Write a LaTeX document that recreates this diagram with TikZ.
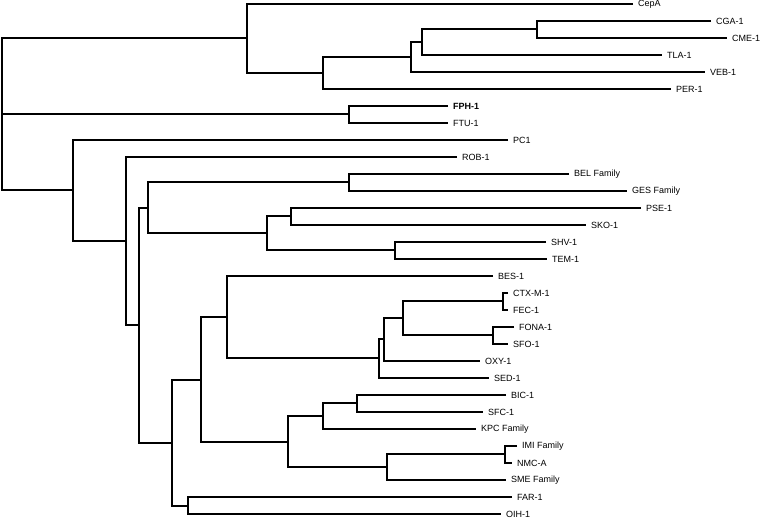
\documentclass[tikz,border=0pt]{standalone}
\usepackage{fontspec}
\setsansfont{Liberation Sans}
\usetikzlibrary{positioning}
\tikzset{
  branch/.style={line width=2pt},
  leaflab/.style={font=\sffamily\fontsize{9}{10}\selectfont,inner sep=0pt,label distance=5pt}
}
\begin{document}
\begin{tikzpicture}[x=1pt,y=-1pt]
\useasboundingbox (0,0) rectangle (760,519);
% leaves: row/end x/name/label
\foreach \i/\x/\nm/\lab in {0/633/cepa/CepA,1/711/cga/CGA-1,2/727/cme/CME-1,3/662/tla/TLA-1,
  4/705/veb/VEB-1,5/671/per/PER-1,6/448/fph/\textbf{FPH-1},7/448/ftu/FTU-1,8/508/pc/PC1,
  9/457/rob/ROB-1,10/569/bel/BEL Family,11/627/ges/GES Family,12/641/pse/PSE-1,
  13/586/sko/SKO-1,14/546/shv/SHV-1,15/547/tem/TEM-1,16/493/bes/BES-1,17/508/ctx/CTX-M-1,
  18/508/fec/FEC-1,19/514/fona/FONA-1,20/508/sfo/SFO-1,21/480/oxy/OXY-1,22/489/sed/SED-1,
  23/506/bic/BIC-1,24/483/sfc/SFC-1,25/476/kpc/KPC Family,26/517/imi/IMI Family,
  27/512/nmc/NMC-A,28/506/sme/SME Family,29/512/far/FAR-1,30/501/oih/OIH-1}
  \coordinate[label={[leaflab]right:\lab}] (\nm) at (\x,4+17*\i);
% internal nodes
\coordinate (root) at (2,114);
\coordinate (nCep) at (247,38);
\coordinate (nPer) at (323,73);
\coordinate (nVeb) at (411,57);
\coordinate (nTla) at (422,42);
\coordinate (nCga) at (537,29);
\coordinate (nFph) at (349,114);
\coordinate (nPc) at (73,190);
\coordinate (nRob) at (126,241);
\coordinate (nMid) at (139,325);
\coordinate (nUp) at (148,208);
\coordinate (nBel) at (349,182);
\coordinate (nTem) at (267,233);
\coordinate (nPse) at (291,216);
\coordinate (nShv) at (395,250);
\coordinate (nLow) at (172,443);
\coordinate (nBes) at (201,380);
\coordinate (nA) at (227,317);
\coordinate (nSed) at (379,358);
\coordinate (nOxy) at (384,339);
\coordinate (nCtx) at (403,318);
\coordinate (nFec) at (503,301);
\coordinate (nSfo) at (493,335);
\coordinate (nKpc) at (288,442);
\coordinate (nBic) at (323,416);
\coordinate (nSfc) at (357,403);
\coordinate (nSme) at (387,467);
\coordinate (nImi) at (505,454);
\coordinate (nFar) at (188,506);
% branches
\draw[branch] (nCep) -| (root) |- (nPc);
\draw[branch] (root) -- (nFph);
\draw[branch] (cepa) -| (nCep) |- (nPer);
\draw[branch] (nVeb) -| (nPer) |- (per);
\draw[branch] (nTla) -| (nVeb) |- (veb);
\draw[branch] (nCga) -| (nTla) |- (tla);
\draw[branch] (cga) -| (nCga) |- (cme);
\draw[branch] (fph) -| (nFph) |- (ftu);
\draw[branch] (pc) -| (nPc) |- (nRob);
\draw[branch] (rob) -| (nRob) |- (nMid);
\draw[branch] (nUp) -| (nMid) |- (nLow);
\draw[branch] (nBel) -| (nUp) |- (nTem);
\draw[branch] (bel) -| (nBel) |- (ges);
\draw[branch] (nPse) -| (nTem) |- (nShv);
\draw[branch] (pse) -| (nPse) |- (sko);
\draw[branch] (shv) -| (nShv) |- (tem);
\draw[branch] (nBes) -| (nLow) |- (nFar);
\draw[branch] (nA) -| (nBes) |- (nKpc);
\draw[branch] (bes) -| (nA) |- (nSed);
\draw[branch] (nOxy) -| (nSed) |- (sed);
\draw[branch] (nCtx) -| (nOxy) |- (oxy);
\draw[branch] (nFec) -| (nCtx) |- (nSfo);
\draw[branch] (ctx) -| (nFec) |- (fec);
\draw[branch] (fona) -| (nSfo) |- (sfo);
\draw[branch] (nBic) -| (nKpc) |- (nSme);
\draw[branch] (nSfc) -| (nBic) |- (kpc);
\draw[branch] (bic) -| (nSfc) |- (sfc);
\draw[branch] (nImi) -| (nSme) |- (sme);
\draw[branch] (imi) -| (nImi) |- (nmc);
\draw[branch] (far) -| (nFar) |- (oih);
\end{tikzpicture}
\end{document}
